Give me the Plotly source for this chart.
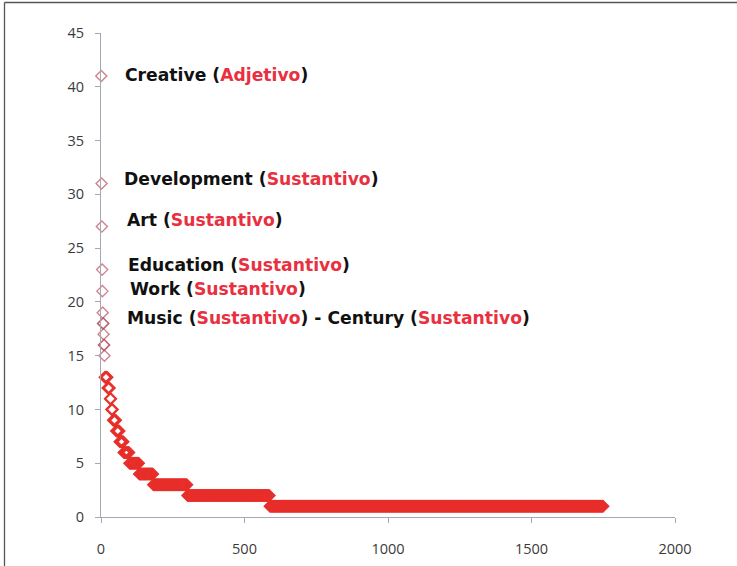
import numpy as np
import plotly.graph_objects as go

# ---- data: rank-frequency distribution (frequency value, number of words with it)
freq_values = [41, 31, 27, 23, 21, 19, 18, 17, 16, 15, 13, 12, 11, 10, 9, 8, 7, 6, 5, 4, 3, 2, 1]
freq_counts = [1, 1, 1, 1, 1, 1, 2, 1, 2, 1, 10, 8, 5, 6, 11, 12, 14, 20, 34, 49, 119, 287, 1163]

label_words = [["Creative"], ["Development"], ["Art"], ["Education"], ["Work"], ["Music", "Century"]]
label_tags = [["Adjetivo"], ["Sustantivo"], ["Sustantivo"], ["Sustantivo"], ["Sustantivo"], ["Sustantivo", "Sustantivo"]]

x_ticks = [0, 500, 1000, 1500, 2000]
y_ticks = [0, 5, 10, 15, 20, 25, 30, 35, 40, 45]

# ---- build series
y_vals = np.repeat(freq_values, freq_counts)
x_vals = np.arange(1, len(y_vals) + 1)

# ---- layout constants
W, H = 737, 566
ML, MR, MT, MB = 101, 62, 33, 49
RED = "#e8302c"
MAUVE = "#b85060"
TAG_RED = "#e83040"
AXIS = "#a4a8b4"

marker_colors = np.where(y_vals >= 15, MAUVE, RED)

fig = go.Figure()
fig.add_trace(go.Scatter(
    x=x_vals, y=y_vals, mode="markers",
    marker=dict(symbol="diamond-open", size=8.5, color=marker_colors, opacity=0.7,
                line=dict(width=1.4)),
    cliponaxis=False, showlegend=False, hoverinfo="x+y",
))

# label anchor positions (data coords) -- layout only
label_x = [76, 72, 83, 86, 93, 83]
label_y = [41.1, 31.4, 27.6, 23.4, 21.2, 18.5]

for words, tags, lx, ly in zip(label_words, label_tags, label_x, label_y):
    parts = [f"{w} (<span style='color:{TAG_RED}'>{t}</span>)" for w, t in zip(words, tags)]
    txt = "<b>" + " - ".join(parts) + "</b>"
    fig.add_annotation(x=lx, y=ly, xref="x", yref="y", text=txt, showarrow=False,
                       xanchor="left", yanchor="middle",
                       font=dict(family="DejaVu Sans", size=17.2, color="#111111"))

pw = W - ML - MR
ph = H - MT - MB
def px_x(p):
    return (p - ML) / pw
def px_y(p):
    return (H - MB - p) / ph

# outer frame (visible left and top edges)
fig.add_shape(type="line", xref="paper", yref="paper",
              x0=px_x(4.5), x1=px_x(4.5), y0=px_y(2.5), y1=px_y(H + 5),
              line=dict(color="#555555", width=1.3))
fig.add_shape(type="line", xref="paper", yref="paper",
              x0=px_x(4.5), x1=px_x(W + 5), y0=px_y(2.5), y1=px_y(2.5),
              line=dict(color="#555555", width=1.3))

tickfont = dict(family="Open Sans", size=14.5, color="#3a3a3a")
fig.update_layout(
    width=W, height=H,
    margin=dict(l=ML, r=MR, t=MT, b=MB, pad=0),
    paper_bgcolor="white", plot_bgcolor="white",
    xaxis=dict(range=[0, 2000], tickvals=x_ticks, showgrid=False, zeroline=False,
               showline=True, linecolor=AXIS, linewidth=1.2,
               ticks="outside", ticklen=5, tickcolor=AXIS, tickwidth=1.2,
               tickfont=tickfont, ticklabelstandoff=13, automargin=False),
    yaxis=dict(range=[0, 45], tickvals=y_ticks, showgrid=False, zeroline=False,
               showline=True, linecolor=AXIS, linewidth=1.2,
               ticks="outside", ticklen=5, tickcolor=AXIS, tickwidth=1.2,
               tickfont=tickfont, ticklabelstandoff=8, automargin=False),
)

fig.write_html("out.html", config={"displayModeBar": False},
               post_script="document.body.style.margin='0';")
